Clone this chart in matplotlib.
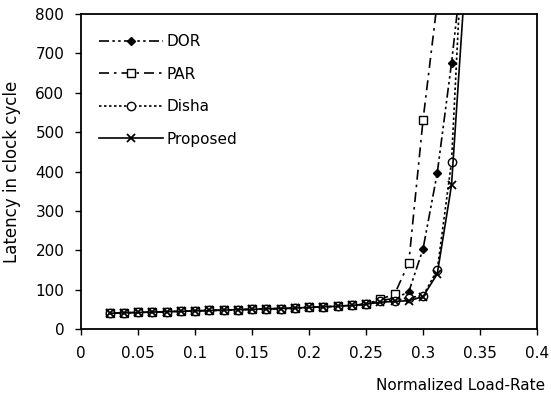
import matplotlib
matplotlib.use("Agg")
import matplotlib.pyplot as plt

# load rate (x) and latency per routing scheme
load = [0.025, 0.0375, 0.05, 0.0625, 0.075, 0.0875, 0.1, 0.1125, 0.125, 0.1375,
        0.15, 0.1625, 0.175, 0.1875, 0.2, 0.2125, 0.225, 0.2375, 0.25,
        0.2625, 0.275, 0.2875, 0.3, 0.3125, 0.325, 0.3375]

low = [40, 41, 42, 43, 44, 45, 46, 47, 48, 49, 50, 51, 52, 53, 55, 56, 58, 60, 63]

dor = low + [72, 78, 94, 203, 396, 675, 1000]
par = low + [76, 88, 168, 530, 830]
disha = low + [70, 72, 80, 84, 150, 424, 1150]
proposed = low + [68, 70, 72, 82, 140, 365, 910]

names = ["DOR", "PAR", "Disha", "Proposed"]

plt.rcParams["font.family"] = "DejaVu Sans"
plt.rcParams["font.size"] = 11

fig = plt.figure(figsize=(5.51, 4.07), dpi=100)
ax = fig.add_axes([81/551, 1-329/407, 456/551, 315/407])

ax.plot(load, dor, color="k", lw=1.2, dashes=[6, 2, 1.5, 2, 1.5, 2],
        marker="D", ms=4, mfc="k", label=names[0])
ax.plot(load[:len(par)], par, color="k", lw=1.2, dashes=[6, 3, 1.5, 3],
        marker="s", ms=6, mfc="white", label=names[1])
ax.plot(load, disha, color="k", lw=1.2, linestyle=(0, (1.5, 1.5)),
        marker="o", ms=6, mfc="white", label=names[2])
ax.plot(load, proposed, color="k", lw=1.2, linestyle="-",
        marker="x", ms=6, mew=1.3, label=names[3])

ax.set_xlim(0, 0.4)
ax.set_ylim(0, 800)
ax.set_xticks([0, 0.05, 0.1, 0.15, 0.2, 0.25, 0.3, 0.35, 0.4])
ax.set_xticklabels(["0", "0.05", "0.1", "0.15", "0.2", "0.25", "0.3", "0.35", "0.4"])
ax.set_yticks(range(0, 801, 100))
ax.tick_params(direction="out", length=4, width=1, pad=8)
for s in ax.spines.values():
    s.set_linewidth(1.3)

ax.set_ylabel("Latency in clock cycle", fontsize=12, labelpad=10)
fig.text(545/551, 1-386/407, "Normalized Load-Rate", ha="right", va="center", fontsize=11)

ax.legend(loc="upper left", bbox_to_anchor=(0.01, 0.98), frameon=False,
          handlelength=4.2, labelspacing=1.15, handletextpad=0.2, fontsize=11)

fig.savefig("out.png", dpi=100)
